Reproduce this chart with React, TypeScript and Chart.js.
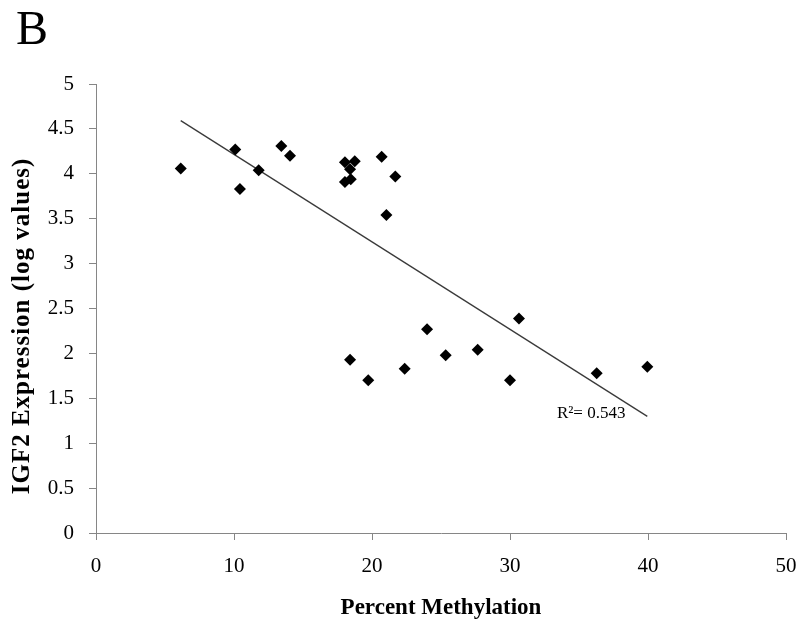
import { useEffect, useRef } from "react";
import { Chart, registerables } from "chart.js";

Chart.register(...registerables);

// Percent methylation (x) and IGF2 expression in log values (y)
const methylation = [
  6.14, 10.09, 10.43, 11.79, 13.43, 14.06, 18.04, 18.75, 18.41, 18.46, 18.04, 20.7,
  21.69, 21.04, 23.99, 18.41, 19.73, 22.37, 25.34, 27.66, 30.0, 30.65, 36.28, 39.95,
];
const expression = [
  4.06, 4.27, 3.83, 4.04, 4.31, 4.2, 4.13, 4.14, 4.05, 3.94, 3.91, 4.19,
  3.97, 3.54, 2.27, 1.93, 1.7, 1.83, 1.98, 2.04, 1.7, 2.39, 1.78, 1.85,
];

const xTicks = [0, 10, 20, 30, 40, 50];
const yTicks = [0, 0.5, 1, 1.5, 2, 2.5, 3, 3.5, 4, 4.5, 5];

// linear trend line
const trendSlope = -0.0974;
const trendIntercept = 5.19;
const rSquaredText = "R²= 0.543";
const rSquaredAt = { x: 33.4, y: 1.28 };

const panelLabel = "B";
const xTitle = "Percent Methylation";
const yTitle = "IGF2 Expression (log values)";

const SERIF = '"Liberation Serif", "Times New Roman", Times, serif';
const AXIS_GRAY = "#868686";

export default function App() {
  const canvasRef = useRef<HTMLCanvasElement | null>(null);

  useEffect(() => {
    const canvas = canvasRef.current;
    if (!canvas) return;

    const points = methylation.map((x, i) => ({ x, y: expression[i] }));
    const xMin = Math.min(...methylation);
    const xMax = Math.max(...methylation);
    const trend = [
      { x: xMin, y: trendIntercept + trendSlope * xMin },
      { x: xMax, y: trendIntercept + trendSlope * xMax },
    ];

    const textPlugin = {
      id: "extraText",
      afterDraw(chart: any) {
        const ctx = chart.ctx as CanvasRenderingContext2D;
        const xs = chart.scales.x;
        const ys = chart.scales.y;
        ctx.save();
        ctx.fillStyle = "#000";
        // panel label
        ctx.font = `48px ${SERIF}`;
        ctx.textAlign = "left";
        ctx.textBaseline = "alphabetic";
        ctx.fillText(panelLabel, 16, 44);
        // R squared
        ctx.font = `17px ${SERIF}`;
        ctx.fillText(rSquaredText, xs.getPixelForValue(rSquaredAt.x), ys.getPixelForValue(rSquaredAt.y));
        // y axis title
        ctx.translate(23, 326);
        ctx.rotate(-Math.PI / 2);
        ctx.font = `bold 25px ${SERIF}`;
        (ctx as any).letterSpacing = "1px";
        ctx.textAlign = "center";
        ctx.textBaseline = "middle";
        ctx.fillText(yTitle, 0, 0);
        ctx.restore();
      },
    };

    const chart = new Chart(canvas, {
      type: "scatter",
      data: {
        datasets: [
          {
            label: "samples",
            data: points,
            pointStyle: "rectRot",
            pointRadius: 6,
            pointHoverRadius: 6,
            backgroundColor: "#000",
            borderWidth: 0,
            order: 1,
          },
          {
            label: "trend",
            data: trend,
            showLine: true,
            borderColor: "#3a3a3a",
            borderWidth: 1.3,
            pointRadius: 0,
            pointHoverRadius: 0,
            fill: false,
            order: 2,
          } as any,
        ],
      },
      options: {
        responsive: false,
        animation: false,
        devicePixelRatio: 1,
        layout: { padding: { left: 0, right: 15, top: 84, bottom: 0 } },
        plugins: {
          legend: { display: false },
          tooltip: { enabled: false },
        },
        scales: {
          x: {
            type: "linear",
            min: xTicks[0],
            max: xTicks[xTicks.length - 1],
            afterBuildTicks: (s: any) => {
              s.ticks = xTicks.map((v) => ({ value: v }));
            },
            afterFit: (s: any) => {
              s.height = 95;
              s.paddingLeft = 0;
              s.paddingRight = 0;
            },
            grid: {
              display: true,
              drawOnChartArea: false,
              drawTicks: true,
              tickLength: 7,
              color: AXIS_GRAY,
            },
            border: { display: true, color: AXIS_GRAY, width: 1 },
            ticks: {
              padding: 14,
              color: "#000",
              font: { family: SERIF, size: 21 },
              maxRotation: 0,
              callback: (v: any) => String(v),
            },
            title: {
              display: true,
              text: xTitle,
              color: "#000",
              font: { family: SERIF, size: 23, weight: "bold" },
              padding: { top: 0, bottom: 6 },
            },
          },
          y: {
            type: "linear",
            min: yTicks[0],
            max: yTicks[yTicks.length - 1],
            afterBuildTicks: (s: any) => {
              s.ticks = yTicks.map((v) => ({ value: v }));
            },
            afterFit: (s: any) => {
              s.width = 96;
              s.paddingTop = 0;
              s.paddingBottom = 0;
            },
            grid: {
              display: true,
              drawOnChartArea: false,
              drawTicks: true,
              tickLength: 7,
              color: AXIS_GRAY,
            },
            border: { display: true, color: AXIS_GRAY, width: 1 },
            ticks: {
              padding: 15,
              color: "#000",
              font: { family: SERIF, size: 21 },
              callback: (v: any) => String(v),
            },
          },
        },
      },
      plugins: [textPlugin],
    } as any);

    return () => {
      chart.destroy();
    };
  }, []);

  return (
    <div style={{ position: "absolute", left: 0, top: 0, width: 801, height: 628, background: "#fff" }}>
      <canvas ref={canvasRef} width={801} height={628} style={{ display: "block" }} />
    </div>
  );
}
